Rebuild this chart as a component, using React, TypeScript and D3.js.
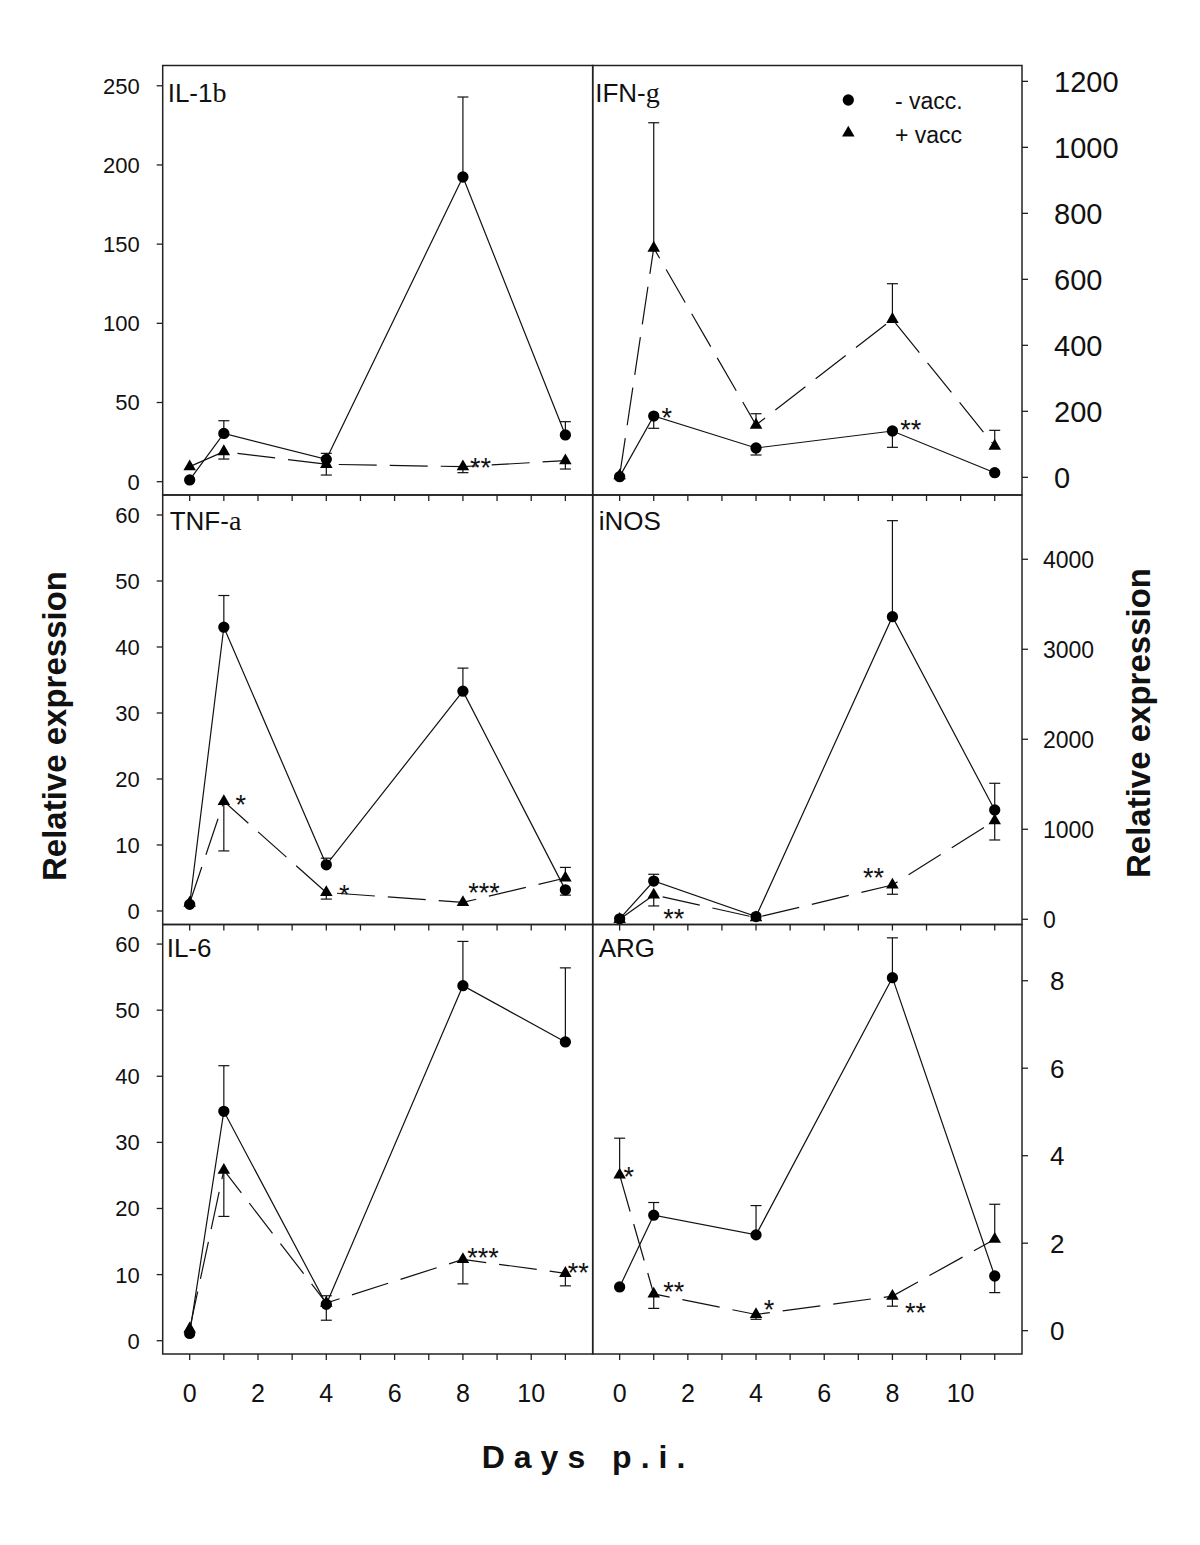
import React from 'react';
import * as d3 from 'd3';

// ---------- DATA ----------
const days = [0, 1, 4, 8, 11];
const xMinorTicks = [0, 1, 2, 3, 4, 5, 6, 7, 8, 9, 10, 11];
const xTickLabels = [0, 2, 4, 6, 8, 10];

// IL-1b
const il1bUnvacc = [1.1, 30.5, 14.1, 192.4, 29.5];
const il1bUnvaccErr = [null, 38.5, 17.9, 242.9, 37.9];
const il1bVacc = [9.5, 19, 11, 9.5, 13.3];
const il1bVaccErr = [null, 14.3, 4.2, 5.7, 8.0];
const il1bTicks = [0, 50, 100, 150, 200, 250];
const il1bStars = [{ series: 'vacc', i: 3, text: '**' }];

// IFN-g
const ifngUnvacc = [2, 185.7, 88.8, 140.3, 14];
const ifngUnvaccErr = [null, 148.5, 67.6, 90.9, null];
const ifngVacc = [5, 694.8, 158.5, 478.8, 94.8];
const ifngVaccErr = [null, 1074.5, 192.7, 586.7, 142.4];
const ifngTicks = [0, 200, 400, 600, 800, 1000, 1200];
const ifngStars = [
  { series: 'unvacc', i: 1, text: '*' },
  { series: 'unvacc', i: 3, text: '**' },
];

// TNF-a
const tnfUnvacc = [1.0, 43, 7, 33.3, 3.2];
const tnfUnvaccErr = [null, 47.8, 8.0, 36.8, 2.4];
const tnfVacc = [1.2, 16.6, 2.8, 1.3, 5.0];
const tnfVaccErr = [null, 9.1, 1.8, null, 6.6];
const tnfTicks = [0, 10, 20, 30, 40, 50, 60];
const tnfStars = [
  { series: 'vacc', i: 1, text: '*' },
  { series: 'vacc', i: 2, text: '*' },
  { series: 'vacc', i: 3, text: '***' },
];

// iNOS
const inosUnvacc = [5, 425, 30, 3362, 1214];
const inosUnvaccErr = [null, 500, null, 4429, 1511];
const inosVacc = [0, 270, 18, 381, 1096];
const inosVaccErr = [null, 148, null, 278, 881];
const inosTicks = [0, 1000, 2000, 3000, 4000];
const inosStars = [
  { series: 'vacc', i: 1, text: '**' },
  { series: 'vacc', i: 3, text: '**' },
];

// IL-6
const il6Unvacc = [1.1, 34.7, 5.5, 53.7, 45.2];
const il6UnvaccErr = [null, 41.6, 6.8, 60.4, 56.4];
const il6Vacc = [1.8, 25.8, 5.7, 12.3, 10.2];
const il6VaccErr = [null, 18.8, 3.1, 8.6, 8.3];
const il6Ticks = [0, 10, 20, 30, 40, 50, 60];
const il6Stars = [
  { series: 'vacc', i: 3, text: '***' },
  { series: 'vacc', i: 4, text: '**' },
];

// ARG
const argUnvacc = [1.0, 2.64, 2.19, 8.07, 1.25];
const argUnvaccErr = [null, 2.93, 2.86, 8.98, 0.87];
const argVacc = [3.56, 0.84, 0.37, 0.79, 2.09];
const argVaccErr = [4.4, 0.51, 0.26, 0.56, 2.89];
const argTicks = [0, 2, 4, 6, 8];
const argStars = [
  { series: 'vacc', i: 0, text: '*' },
  { series: 'vacc', i: 1, text: '**' },
  { series: 'vacc', i: 2, text: '*' },
  { series: 'vacc', i: 3, text: '**' },
];

const legendLabels = ['- vacc.', '+ vacc'];
const yAxisTitle = 'Relative expression';
const xAxisTitle = 'Days p.i.';

// ---------- LAYOUT ----------
const W = 1200;
const H = 1545;
const COLS = [
  [162.7, 592.7],
  [592.7, 1022],
];
const ROWS = [
  [65.5, 495],
  [495, 924.5],
  [924.5, 1354],
];
const X_DOMAIN = [-0.79, 11.8];
const SANS = '"Liberation Sans", Arial, Helvetica, sans-serif';
const SERIF = '"Liberation Serif", "Times New Roman", serif';
const INK = '#111';

// star offsets (px) relative to data point, in same order as star arrays
const STAR_OFFSETS = {
  il1b: [[17.5, -5]],
  ifng: [[13, -4], [18.4, -7]],
  tnf: [[17, -2], [18, -3], [21, -15]],
  inos: [[20, 18], [-19, -13]],
  il6: [[20, -7], [13, -6]],
  arg: [[9, -4], [20, -8], [13, -10], [23, 11]],
};

const panels = [
  {
    key: 'il1b', title: 'IL-1', greek: 'b', col: 0, row: 0, yDomain: [-8.4, 262.8], ticks: il1bTicks,
    unvacc: il1bUnvacc, unvaccErr: il1bUnvaccErr, vacc: il1bVacc, vaccErr: il1bVaccErr, stars: il1bStars,
    tickFont: 22, titleDx: 5, titleBase: 36,
  },
  {
    key: 'ifng', title: 'IFN-', greek: 'g', col: 1, row: 0, yDomain: [-53.6, 1248], ticks: ifngTicks,
    unvacc: ifngUnvacc, unvaccErr: ifngUnvaccErr, vacc: ifngVacc, vaccErr: ifngVaccErr, stars: ifngStars,
    tickFont: 29, labelDx: 32, titleDx: 2.5, titleBase: 36,
  },
  {
    key: 'tnf', title: 'TNF-', greek: 'a', col: 0, row: 1, yDomain: [-2.05, 63.03], ticks: tnfTicks,
    unvacc: tnfUnvacc, unvaccErr: tnfUnvaccErr, vacc: tnfVacc, vaccErr: tnfVaccErr, stars: tnfStars,
    tickFont: 22, titleDx: 7, titleBase: 35,
  },
  {
    key: 'inos', title: 'iNOS', greek: '', col: 1, row: 1, yDomain: [-58, 4714], ticks: inosTicks,
    unvacc: inosUnvacc, unvaccErr: inosUnvaccErr, vacc: inosVacc, vaccErr: inosVaccErr, stars: inosStars,
    tickFont: 23, labelDx: 21, titleDx: 6, titleBase: 34.5,
  },
  {
    key: 'il6', title: 'IL-6', greek: '', col: 0, row: 2, yDomain: [-2.01, 62.96], ticks: il6Ticks,
    unvacc: il6Unvacc, unvaccErr: il6UnvaccErr, vacc: il6Vacc, vaccErr: il6VaccErr, stars: il6Stars,
    tickFont: 22, titleDx: 4, titleBase: 32,
  },
  {
    key: 'arg', title: 'ARG', greek: '', col: 1, row: 2, yDomain: [-0.533, 9.285], ticks: argTicks,
    unvacc: argUnvacc, unvaccErr: argUnvaccErr, vacc: argVacc, vaccErr: argVaccErr, stars: argStars,
    tickFont: 26, labelDx: 28, titleDx: 6, titleBase: 32,
  },
];

const circlePath = d3.symbol().type(d3.symbolCircle).size(100)() as string;
const trianglePath = d3.symbol().type(d3.symbolTriangle).size(68)() as string;

function PanelView({ p }: { p: any }) {
  const [x0, x1] = COLS[p.col];
  const [y0, y1] = ROWS[p.row];
  const xs = d3.scaleLinear().domain(X_DOMAIN).range([x0, x1]);
  const ys = d3.scaleLinear().domain(p.yDomain).range([y1, y0]);
  const line = d3
    .line<number>()
    .x((_, i) => xs(days[i]))
    .y((d) => ys(d));
  const isRight = p.col === 1;
  const isBottom = p.row === 2;

  const errBars = (vals: number[], errs: (number | null)[], k: string) =>
    errs.map((e, i) => {
      if (e === null || e === undefined) return null;
      const cx = xs(days[i]);
      return (
        <g key={k + i}>
          <line x1={cx} x2={cx} y1={ys(vals[i])} y2={ys(e)} stroke={INK} strokeWidth={1.2} />
          <line x1={cx - 5.5} x2={cx + 5.5} y1={ys(e)} y2={ys(e)} stroke={INK} strokeWidth={1.2} />
        </g>
      );
    });

  const offs = (STAR_OFFSETS as any)[p.key] || [];
  const starFont = 27;

  return (
    <g>
      {/* frame */}
      <rect x={x0} y={y0} width={x1 - x0} height={y1 - y0} fill="none" stroke="#222" strokeWidth={1.5} />
      {/* x ticks at bottom (outward) */}
      {xMinorTicks.map((t) => (
        <line key={'xt' + t} x1={xs(t)} x2={xs(t)} y1={y1} y2={y1 + 6} stroke="#222" strokeWidth={1.3} />
      ))}
      {isBottom &&
        xTickLabels.map((t) => (
          <text key={'xl' + t} x={xs(t)} y={1402} textAnchor="middle" fontFamily={SANS} fontSize={25} fill={INK}>
            {t}
          </text>
        ))}
      {/* y ticks */}
      {p.ticks.map((t: number) => (
        <g key={'yt' + t}>
          <line
            x1={isRight ? x1 : x0}
            x2={isRight ? x1 + 6 : x0 - 6}
            y1={ys(t)}
            y2={ys(t)}
            stroke="#222"
            strokeWidth={1.3}
          />
          <text
            x={isRight ? x1 + p.labelDx : x0 - 23}
            y={ys(t)}
            dy="0.36em"
            textAnchor={isRight ? 'start' : 'end'}
            fontFamily={SANS}
            fontSize={p.tickFont}
            fill={INK}
          >
            {t}
          </text>
        </g>
      ))}
      {/* title */}
      <text x={x0 + p.titleDx} y={y0 + p.titleBase} fontFamily={SANS} fontSize={26} fill={INK}>
        {p.title}
        {p.greek && (
          <tspan fontFamily={SERIF} fontSize={28}>
            {p.greek}
          </tspan>
        )}
      </text>
      {/* lines */}
      <path d={line(p.vacc) as string} fill="none" stroke={INK} strokeWidth={1.2} strokeDasharray="38 13" />
      <path d={line(p.unvacc) as string} fill="none" stroke={INK} strokeWidth={1.2} />
      {/* error bars */}
      {errBars(p.unvacc, p.unvaccErr, 'eu')}
      {errBars(p.vacc, p.vaccErr, 'ev')}
      {/* markers */}
      {p.vacc.map((v: number, i: number) => (
        <path key={'tv' + i} d={trianglePath} transform={`translate(${xs(days[i])},${ys(v)})`} fill="#000" />
      ))}
      {p.unvacc.map((v: number, i: number) => (
        <path key={'cu' + i} d={circlePath} transform={`translate(${xs(days[i])},${ys(v)})`} fill="#000" />
      ))}
      {/* significance stars */}
      {p.stars.map((s: any, j: number) => {
        const arr = s.series === 'vacc' ? p.vacc : p.unvacc;
        const [dx, dy] = offs[j] || [12, -6];
        const cx = xs(days[s.i]) + dx;
        const cy = ys(arr[s.i]) + dy;
        return (
          <text
            key={'st' + j}
            x={cx}
            y={cy + starFont * 0.55}
            textAnchor="middle"
            fontFamily={SANS}
            fontSize={starFont}
            fill={INK}
          >
            {s.text}
          </text>
        );
      })}
    </g>
  );
}

export default function App() {
  return (
    <svg
      width={W}
      height={H}
      viewBox={`0 0 ${W} ${H}`}
      style={{ position: 'absolute', left: 0, top: 0, background: '#fff' }}
    >
      <rect x={0} y={0} width={W} height={H} fill="#fff" />
      {panels.map((p) => (
        <PanelView key={p.key} p={p} />
      ))}
      {/* legend in IFN-g panel */}
      <path d={circlePath} transform="translate(848.3,100)" fill="#000" />
      <path d={trianglePath} transform="translate(848.3,133)" fill="#000" />
      <text x={895} y={109} fontFamily={SANS} fontSize={23} fill={INK}>
        {legendLabels[0]}
      </text>
      <text x={895} y={143} fontFamily={SANS} fontSize={23} fill={INK}>
        {legendLabels[1]}
      </text>
      {/* axis titles */}
      <text
        transform="translate(66,726) rotate(-90)"
        textAnchor="middle"
        fontFamily={SANS}
        fontWeight="bold"
        fontSize={33}
        fill={INK}
      >
        {yAxisTitle}
      </text>
      <text
        transform="translate(1150,723) rotate(-90)"
        textAnchor="middle"
        fontFamily={SANS}
        fontWeight="bold"
        fontSize={33}
        fill={INK}
      >
        {yAxisTitle}
      </text>
      <text
        x={588}
        y={1468}
        textAnchor="middle"
        fontFamily={SANS}
        fontWeight="bold"
        fontSize={32}
        letterSpacing={9}
        fill={INK}
      >
        {xAxisTitle}
      </text>
    </svg>
  );
}
